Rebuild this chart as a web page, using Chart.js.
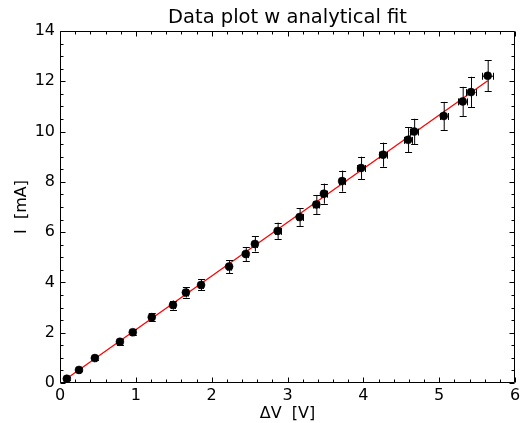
<!DOCTYPE html>
<html>
<head>
<meta charset="utf-8">
<script src="https://cdn.jsdelivr.net/npm/chart.js@4/dist/chart.umd.min.js"></script>
<style>
  html, body { margin: 0; padding: 0; background: #fff; }
  #wrap { width: 521px; height: 423px; }
</style>
</head>
<body>
<div id="wrap"><canvas id="c" width="521" height="423"></canvas></div>
<script>
// ---- data ----
const voltage = [0.09, 0.25, 0.46, 0.79, 0.96, 1.21, 1.49, 1.66, 1.86, 2.23, 2.45, 2.57, 2.87, 3.16, 3.38, 3.48, 3.72, 3.97, 4.26, 4.59, 4.67, 5.06, 5.31, 5.42, 5.64];
const current = [0.17, 0.52, 0.99, 1.64, 2.02, 2.62, 3.10, 3.60, 3.90, 4.63, 5.13, 5.53, 6.05, 6.60, 7.10, 7.53, 8.03, 8.55, 9.08, 9.67, 10.00, 10.62, 11.20, 11.57, 12.22];
const currentErr = [0.05, 0.06, 0.08, 0.11, 0.13, 0.16, 0.18, 0.20, 0.22, 0.26, 0.28, 0.30, 0.33, 0.36, 0.38, 0.40, 0.42, 0.45, 0.48, 0.50, 0.51, 0.56, 0.58, 0.61, 0.62];
const voltageErr = [0.01, 0.01, 0.01, 0.02, 0.02, 0.02, 0.02, 0.03, 0.03, 0.03, 0.03, 0.03, 0.04, 0.04, 0.04, 0.04, 0.04, 0.05, 0.05, 0.05, 0.05, 0.05, 0.06, 0.06, 0.07];
const fitVoltage = [0.09, 5.64];
const fitCurrent = [0.18, 12.02];
const xTicks = [0, 1, 2, 3, 4, 5, 6];
const yTicks = [0, 2, 4, 6, 8, 10, 12, 14];
const titleText = 'Data plot w analytical fit';
const xTitle = '\u0394V  [V]';
const yTitle = 'I  [mA]';

const FONT = "'DejaVu Sans', sans-serif";

const pointsData = voltage.map((v, i) => ({ x: v, y: current[i], xe: voltageErr[i], ye: currentErr[i] }));
const fitData = fitVoltage.map((v, i) => ({ x: v, y: fitCurrent[i] }));

const errorBars = {
  id: 'errorBars',
  beforeDatasetDraw(chart, args) {
    if (args.index !== 0) return;
    const xs = chart.scales.x, ys = chart.scales.y;
    const ctx = chart.ctx;
    ctx.save();
    ctx.strokeStyle = '#000';
    ctx.lineWidth = 1;
    const cap = 3;
    chart.data.datasets[0].data.forEach(p => {
      const px = xs.getPixelForValue(p.x);
      const py = ys.getPixelForValue(p.y);
      const y1 = ys.getPixelForValue(p.y - p.ye), y2 = ys.getPixelForValue(p.y + p.ye);
      const x1 = xs.getPixelForValue(p.x - p.xe), x2 = xs.getPixelForValue(p.x + p.xe);
      ctx.beginPath();
      ctx.moveTo(px + 0.5, y1); ctx.lineTo(px + 0.5, y2);
      ctx.moveTo(px - cap, Math.round(y1) + 0.5); ctx.lineTo(px + cap + 1, Math.round(y1) + 0.5);
      ctx.moveTo(px - cap, Math.round(y2) + 0.5); ctx.lineTo(px + cap + 1, Math.round(y2) + 0.5);
      ctx.moveTo(x1, py + 0.5); ctx.lineTo(x2, py + 0.5);
      ctx.moveTo(Math.round(x1) + 0.5, py - cap); ctx.lineTo(Math.round(x1) + 0.5, py + cap + 1);
      ctx.moveTo(Math.round(x2) + 0.5, py - cap); ctx.lineTo(Math.round(x2) + 0.5, py + cap + 1);
      ctx.stroke();
    });
    ctx.restore();
  }
};

const frameTicks = {
  id: 'frameTicks',
  afterDraw(chart) {
    const { ctx, chartArea: a } = chart;
    const xs = chart.scales.x, ys = chart.scales.y;
    ctx.save();
    ctx.strokeStyle = '#000';
    ctx.lineWidth = 1;
    ctx.beginPath();
    const L = Math.round(a.left) + 0.5, R = Math.round(a.right) - 0.5;
    const T = Math.round(a.top) + 0.5, B = Math.round(a.bottom) - 0.5;
    ctx.rect(L, T, R - L, B - T);
    // x ticks (inward, bottom and top)
    for (let k = 0; k <= 30; k++) {
      const v = xs.min + k * (xs.max - xs.min) / 30;
      const major = k % 5 === 0;
      const len = major ? 5 : 3;
      const px = Math.round(xs.getPixelForValue(v)) + 0.5;
      ctx.moveTo(px, B); ctx.lineTo(px, B - len);
      ctx.moveTo(px, T); ctx.lineTo(px, T + len);
    }
    // y ticks (inward, left and right)
    for (let k = 0; k <= 28; k++) {
      const v = ys.min + k * (ys.max - ys.min) / 28;
      const major = k % 4 === 0;
      const len = major ? 5 : 3;
      const py = Math.round(ys.getPixelForValue(v)) + 0.5;
      ctx.moveTo(L, py); ctx.lineTo(L + len, py);
      ctx.moveTo(R, py); ctx.lineTo(R - len, py);
    }
    ctx.stroke();
    ctx.restore();
  }
};

new Chart(document.getElementById('c'), {
  type: 'scatter',
  data: {
    datasets: [
      {
        label: 'data',
        data: pointsData,
        pointRadius: 4,
        pointHoverRadius: 4,
        pointBackgroundColor: '#000',
        pointBorderColor: '#000',
        pointBorderWidth: 0.5,
        showLine: false,
        order: 0
      },
      {
        label: 'fit',
        data: fitData,
        showLine: true,
        borderColor: '#ff0000',
        borderWidth: 1.3,
        pointRadius: 0,
        fill: false,
        order: 1
      }
    ]
  },
  options: {
    responsive: false,
    animation: false,
    events: [],
    layout: { padding: { left: 0, right: 6, top: 0, bottom: 0 } },
    plugins: {
      legend: { display: false },
      tooltip: { enabled: false },
      title: {
        display: true,
        text: titleText,
        fullSize: false,
        color: '#000',
        font: { family: FONT, size: 19.5, weight: 'normal', lineHeight: 1.2 },
        padding: { top: 6, bottom: 1.6 }
      }
    },
    scales: {
      x: {
        type: 'linear',
        min: 0, max: 6,
        afterBuildTicks: s => { s.ticks = xTicks.map(v => ({ value: v })); },
        afterFit: s => { s.height = 40; s.paddingLeft = 0; s.paddingRight = 0; },
        grid: { display: false, drawTicks: false },
        border: { display: false },
        ticks: { color: '#000', font: { family: FONT, size: 16 }, padding: 3, maxRotation: 0, autoSkip: false },
        title: { display: true, text: xTitle, color: '#000', font: { family: FONT, size: 16 }, padding: { top: 0, bottom: 0 } }
      },
      y: {
        type: 'linear',
        min: 0, max: 14,
        afterBuildTicks: s => { s.ticks = yTicks.map(v => ({ value: v })); },
        afterFit: s => { s.width = 60; s.paddingTop = 0; s.paddingBottom = 0; },
        grid: { display: false, drawTicks: false },
        border: { display: false },
        ticks: { color: '#000', font: { family: FONT, size: 16 }, padding: 5, autoSkip: false },
        title: { display: true, text: yTitle, color: '#000', font: { family: FONT, size: 16 }, padding: { top: 12, bottom: 0 } }
      }
    }
  },
  plugins: [errorBars, frameTicks]
});
</script>
</body>
</html>
